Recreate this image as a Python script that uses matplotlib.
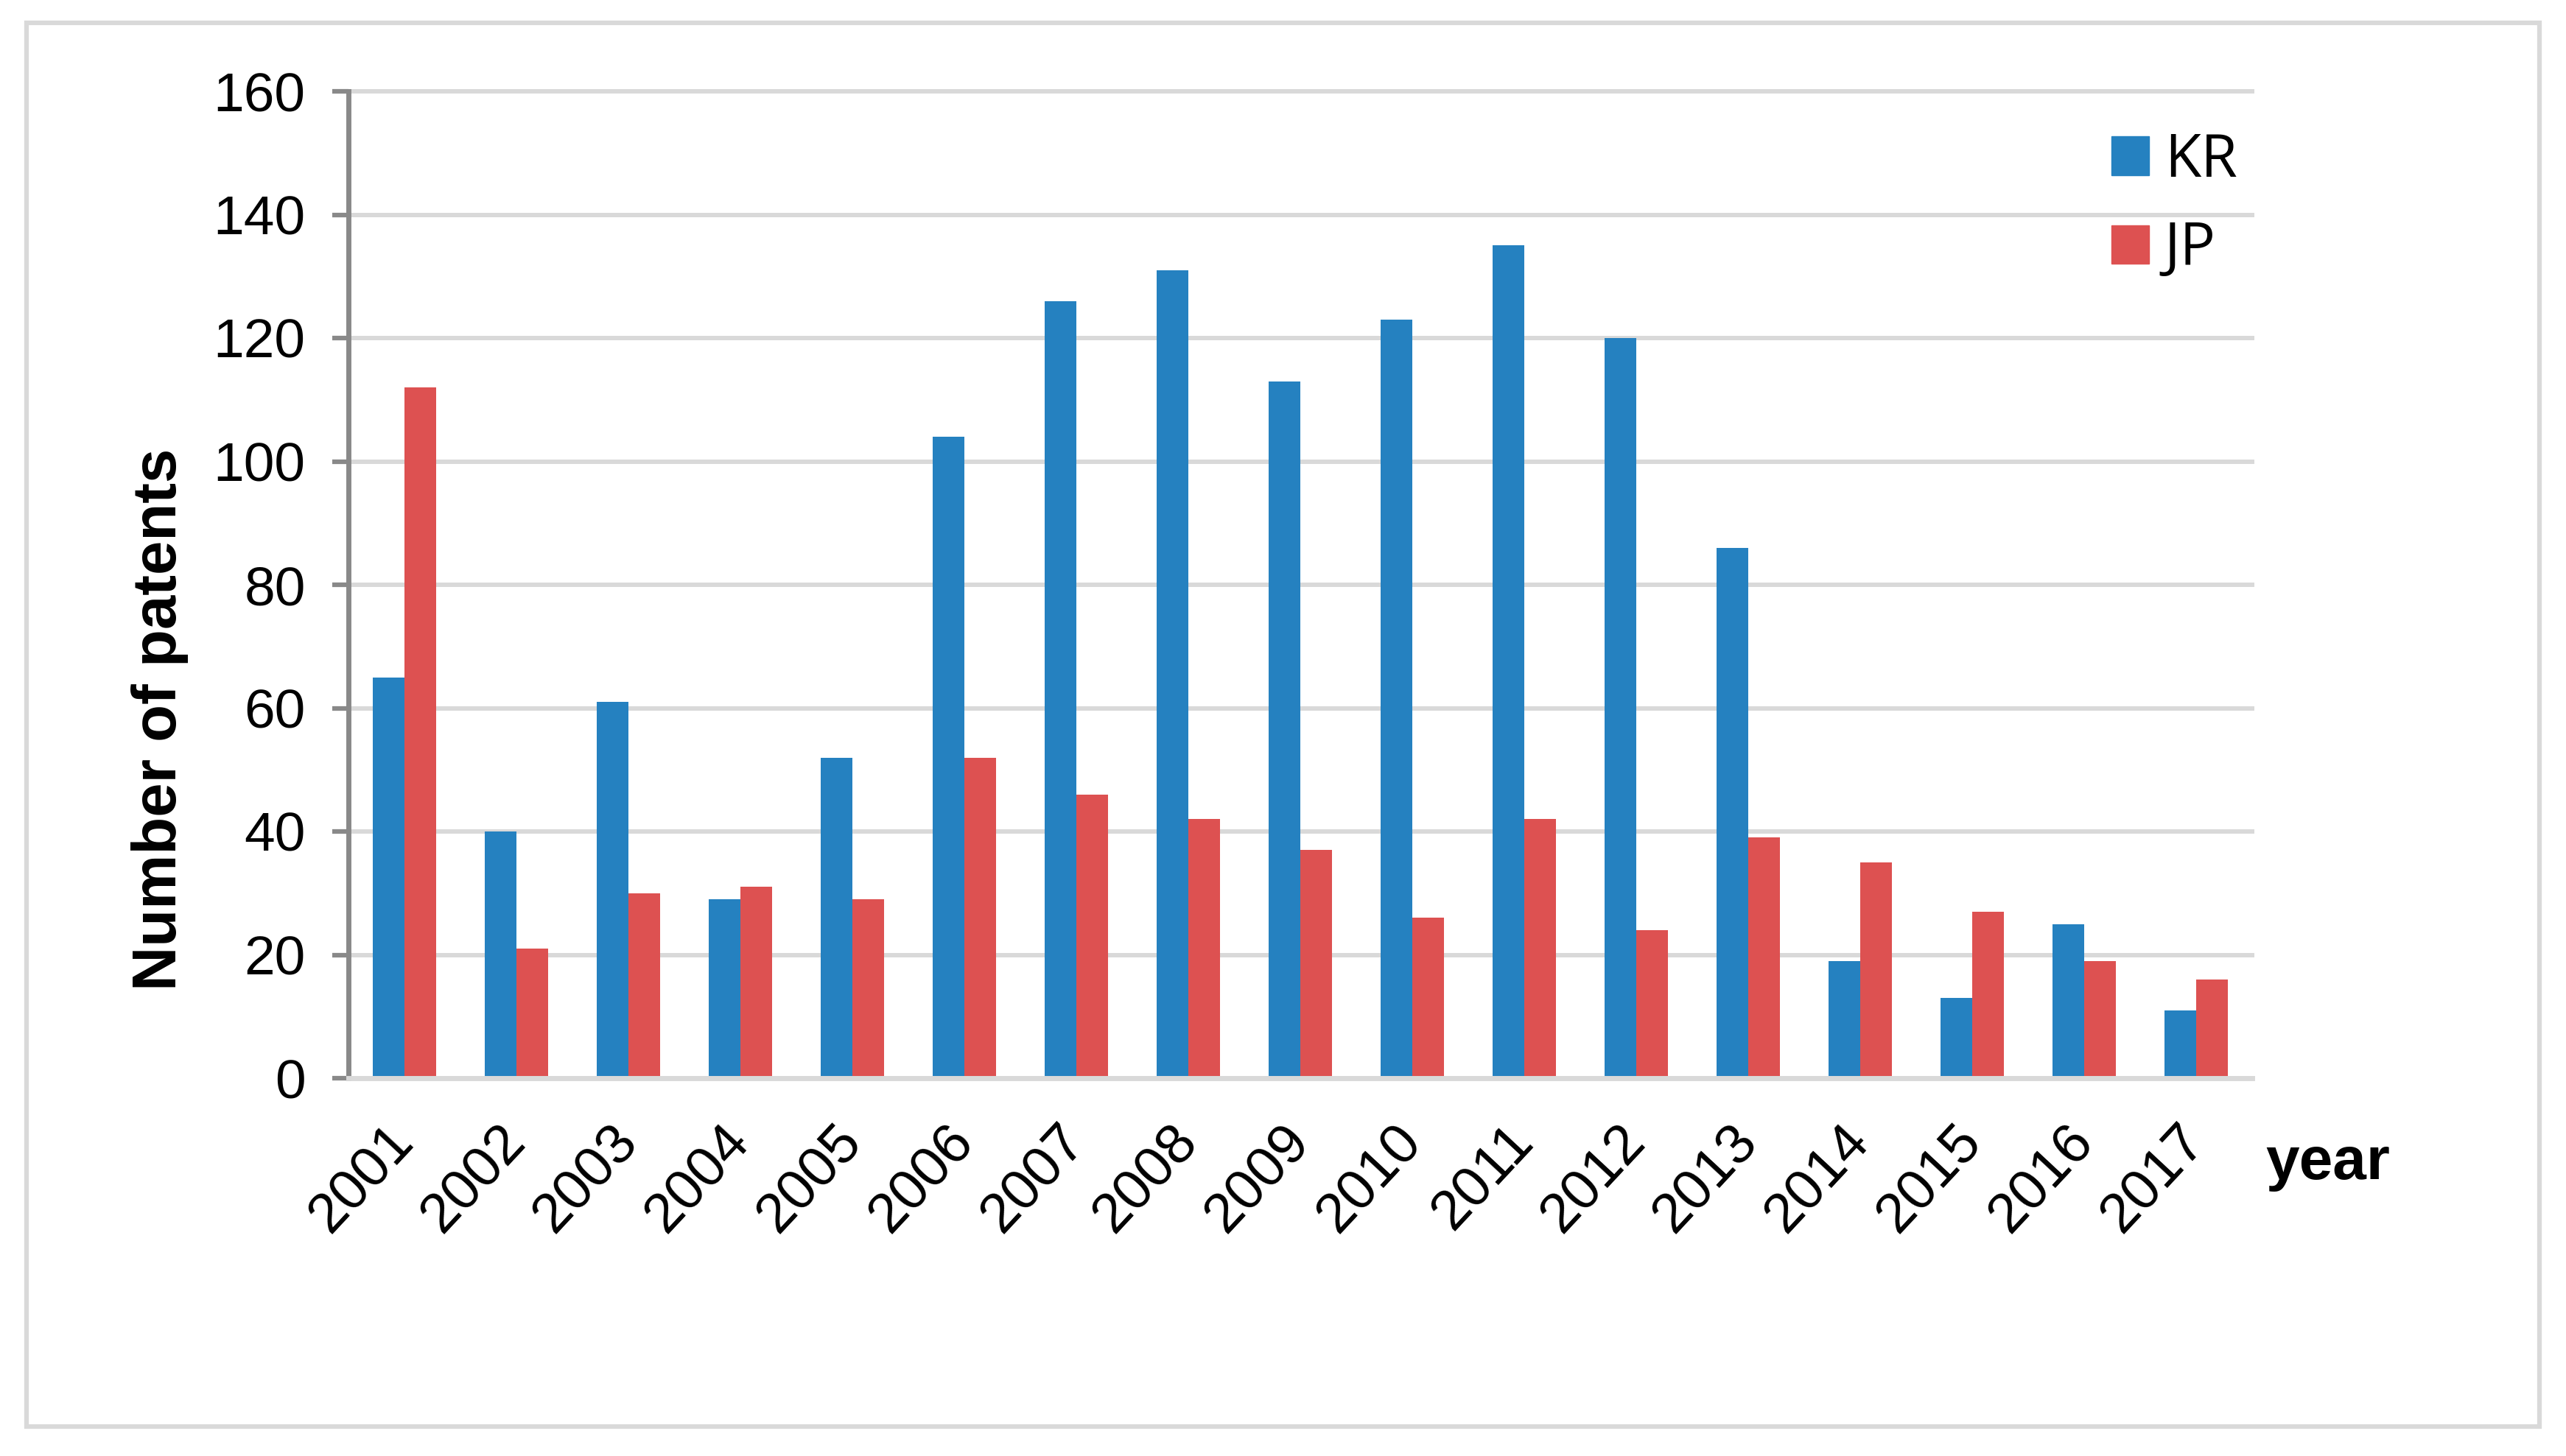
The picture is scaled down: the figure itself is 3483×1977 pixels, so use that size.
import matplotlib
matplotlib.use("Agg")
import matplotlib.pyplot as plt
import numpy as np
from matplotlib.patches import Rectangle, Patch

years = ["2001", "2002", "2003", "2004", "2005", "2006", "2007", "2008", "2009",
         "2010", "2011", "2012", "2013", "2014", "2015", "2016", "2017"]
kr = [65, 40, 61, 29, 52, 104, 126, 131, 113, 123, 135, 120, 86, 19, 13, 25, 11]
jp = [112, 21, 30, 31, 29, 52, 46, 42, 37, 26, 42, 24, 39, 35, 27, 19, 16]
y_ticks = [0, 20, 40, 60, 80, 100, 120, 140, 160]

blue = "#2581C0"
red = "#DD5151"
grid_c = "#D9D9D9"
spine_c = "#898989"

W, H = 3483, 1977
fig = plt.figure(figsize=(W / 100, H / 100), dpi=100)
fig.patch.set_facecolor("white")

# outer light-gray frame
fig.patches.append(Rectangle((36 / W, 1 - 1937 / H), (3447 - 36) / W, (1937 - 31) / H,
                             transform=fig.transFigure, fill=False, edgecolor=grid_c,
                             linewidth=4.5))

ax = fig.add_axes([473 / W, 1 - 1464 / H, (3057 - 473) / W, (1464 - 124) / H])
x = np.arange(len(years))
bw = 0.28
ax.bar(x - bw / 2, kr, width=bw, color=blue, label="KR", zorder=3)
ax.bar(x + bw / 2, jp, width=bw, color=red, label="JP", zorder=3)

ax.set_xlim(-0.5, len(years) - 0.5)
ax.set_ylim(0, 160)
ax.set_yticks(y_ticks)
ax.set_yticklabels([str(v) for v in y_ticks], fontsize=54, family="Liberation Sans")
ax.set_xticks(x)
ax.set_xticklabels(years, fontsize=55, family="Liberation Sans", rotation=47,
                   ha="right", va="center", rotation_mode="anchor")
ax.tick_params(axis="x", length=0, pad=54)
ax.tick_params(axis="y", length=16, width=4.5, color=spine_c, pad=26)

ax.yaxis.grid(True, color=grid_c, linewidth=4.3, zorder=0)
for gl in ax.get_ygridlines():
    gl.set_clip_on(False)
ax.set_axisbelow(True)

for s in ["top", "right"]:
    ax.spines[s].set_visible(False)
ax.spines["left"].set_color(spine_c)
ax.spines["left"].set_linewidth(5)
ax.spines["bottom"].set_color(grid_c)
ax.spines["bottom"].set_linewidth(5)
ax.spines["bottom"].set_zorder(4)

fig.text(217 / W, 1 - 977 / H, "Number of patents", rotation=90, ha="center", va="center",
         fontsize=60, fontweight="bold", family="Liberation Sans")
fig.text(3075 / W, 1 - 1580 / H, "year", ha="left", va="center",
         fontsize=59, fontweight="bold", family="Liberation Sans")

leg = ax.legend(handles=[Patch(color=blue, label="KR"), Patch(color=red, label="JP")],
                loc="upper left", bbox_to_anchor=(2866 / W, 1 - 178 / H),
                bbox_transform=fig.transFigure, frameon=False,
                prop={"family": "Open Sans", "size": 58},
                handlelength=0.63, handleheight=0.63, handletextpad=0.26,
                labelspacing=0.5, borderpad=0, borderaxespad=0)

fig.savefig("out.png", dpi=100, facecolor="white")
